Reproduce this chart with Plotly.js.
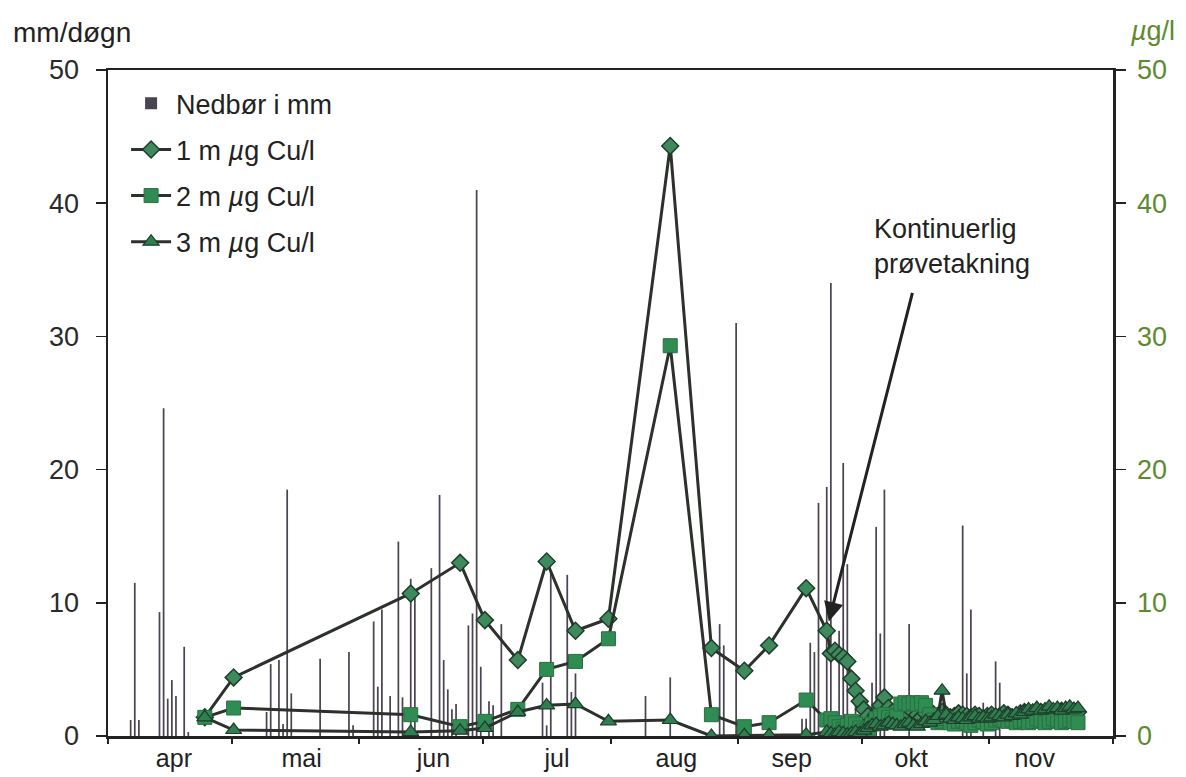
<!DOCTYPE html>
<html>
<head>
<meta charset="utf-8">
<script src="https://cdn.plot.ly/plotly-3.0.1.min.js"></script>
<style>
html,body{margin:0;padding:0;background:#ffffff;}
#chart{width:1186px;height:777px;}
</style>
</head>
<body>
<div id="chart"></div>
<script>
// ---- Precipitation (mm per day) ----
const rainDates = [
  "2000-04-06","2000-04-07","2000-04-08","2000-04-13","2000-04-14","2000-04-15","2000-04-16","2000-04-17","2000-04-19","2000-04-20",
  "2000-05-09","2000-05-10","2000-05-12","2000-05-13","2000-05-14","2000-05-15","2000-05-22","2000-05-29","2000-05-30",
  "2000-06-04","2000-06-05","2000-06-06","2000-06-08","2000-06-10","2000-06-11","2000-06-13","2000-06-14","2000-06-18","2000-06-20",
  "2000-06-21","2000-06-22","2000-06-23","2000-06-24","2000-06-27","2000-06-28","2000-06-29","2000-06-30",
  "2000-07-02","2000-07-03","2000-07-05","2000-07-15","2000-07-16","2000-07-17","2000-07-21","2000-07-22","2000-07-23",
  "2000-08-09","2000-08-15","2000-08-27","2000-08-28","2000-08-31",
  "2000-09-16","2000-09-17","2000-09-18","2000-09-19","2000-09-20","2000-09-22","2000-09-23","2000-09-25","2000-09-26","2000-09-27","2000-09-29",
  "2000-10-03","2000-10-04","2000-10-05","2000-10-06","2000-10-12","2000-10-25","2000-10-26","2000-10-27","2000-10-30",
  "2000-11-02","2000-11-03"
];
const rainMm = [
  1.2,11.5,1.2,9.3,24.6,2.8,4.2,3.0,6.7,0.3,
  1.8,5.4,5.7,0.9,18.5,3.2,5.8,6.3,0.8,
  8.6,3.7,9.5,3.0,14.6,2.9,11.8,11.0,12.6,18.1,
  5.7,3.5,2.0,2.4,8.3,9.2,41.0,5.2,
  2.6,2.3,8.4,4.0,0.8,12.3,12.1,3.3,4.7,
  3.0,4.4,8.4,6.8,31.0,
  1.3,1.3,7.0,6.3,17.5,18.7,34.0,7.9,20.5,12.9,3.0,
  4.0,15.7,7.7,18.5,8.4,15.8,4.7,9.5,2.5,
  5.6,4.0
];

// ---- Copper, manual sampling ----
const sampleDates = ["2000-04-24","2000-05-01","2000-06-13","2000-06-25","2000-07-01","2000-07-09","2000-07-16","2000-07-23",
  "2000-07-31","2000-08-15","2000-08-25","2000-09-02","2000-09-08","2000-09-17","2000-09-22"];
const cu1mSample = [1.4,4.4,10.7,13.0,8.7,5.7,13.1,7.9,8.8,44.3,6.6,4.9,6.8,11.1,7.9];
const cu2mSample = [1.4,2.1,1.6,0.7,1.1,2.0,5.0,5.6,7.3,29.3,1.6,0.7,1.0,2.7,1.2];
const cu3mSample = [1.4,0.45,0.3,0.4,0.6,1.8,2.3,2.4,1.1,1.2,0.0,0.05,0.05,0.1,0.3];

// ---- Copper, continuous sampling ----
const contDates = [
  "2000-09-23","2000-09-24","2000-09-25","2000-09-26","2000-09-27","2000-09-28","2000-09-29","2000-09-30",
  "2000-10-01","2000-10-02","2000-10-03","2000-10-04","2000-10-05","2000-10-06","2000-10-07","2000-10-08","2000-10-09","2000-10-10",
  "2000-10-11","2000-10-12","2000-10-13","2000-10-14","2000-10-15","2000-10-16","2000-10-17","2000-10-18","2000-10-19","2000-10-20",
  "2000-10-21","2000-10-22","2000-10-23","2000-10-24","2000-10-25","2000-10-26","2000-10-27","2000-10-28","2000-10-29","2000-10-30","2000-10-31",
  "2000-11-01","2000-11-02","2000-11-03","2000-11-04","2000-11-05","2000-11-06","2000-11-07","2000-11-08","2000-11-09","2000-11-10",
  "2000-11-11","2000-11-12","2000-11-13","2000-11-14","2000-11-15","2000-11-16","2000-11-17","2000-11-18","2000-11-19","2000-11-20",
  "2000-11-21","2000-11-22"
];
const cu1mCont = [6.2,6.4,6.1,5.9,5.6,4.3,3.4,2.6,
  2.0,1.5,1.2,1.6,2.3,2.9,2.1,1.8,1.6,1.9,
  1.7,1.5,1.8,1.6,1.4,1.7,1.9,1.6,1.5,1.8,
  1.6,1.4,1.5,1.7,1.6,1.5,1.4,1.6,1.5,1.3,1.5,
  1.6,1.4,1.5,1.7,1.6,1.4,1.5,1.7,1.8,1.6,
  1.7,1.9,1.8,1.7,1.9,1.8,1.7,1.9,1.8,1.7,
  1.9,1.8];
const cu2mCont = [1.3,1.0,0.7,0.5,0.8,1.1,0.9,0.6,
  0.4,0.5,0.9,1.3,1.5,1.6,1.4,1.2,1.5,2.4,
  2.5,2.4,2.5,2.4,2.5,2.3,1.6,1.2,1.0,1.1,
  1.3,1.0,0.9,1.1,1.2,1.0,0.8,1.0,1.2,1.1,0.9,
  1.0,1.2,1.3,1.2,1.1,1.2,1.0,1.1,1.2,1.0,
  1.1,1.3,1.2,1.0,1.1,1.3,1.2,1.0,1.1,1.2,
  1.1,1.0];
const cu3mCont = [0.2,0.1,0.3,0.2,0.1,0.2,0.3,0.2,
  0.4,0.6,0.8,0.9,0.7,0.8,1.0,0.9,0.8,0.7,
  0.9,1.0,0.8,0.7,0.9,1.1,1.0,1.2,1.5,3.4,
  1.6,1.3,1.2,1.4,1.3,1.2,1.4,1.5,1.3,1.4,1.3,
  1.4,1.6,1.5,1.4,1.6,1.5,1.7,1.6,1.8,2.0,
  1.9,2.1,1.9,2.0,2.2,2.0,2.1,1.9,2.1,2.2,
  2.0,2.1];

// ---- Axis labels ----
const monthLabelDates = ["2000-04-17","2000-05-18","2000-06-19","2000-07-19","2000-08-17","2000-09-14","2000-10-13","2000-11-12"];
const monthLabels = ["apr","mai","jun","jul","aug","sep","okt","nov"];
const seriesNames = ["Nedbør i mm","1 m <i>µ</i>g Cu/l","2 m <i>µ</i>g Cu/l","3 m <i>µ</i>g Cu/l"];

const FONT = "Liberation Sans, Arial, sans-serif";
const FS = 27;
const DAY = 86400000;
const allDates = sampleDates.concat(contDates);

const traces = [
  {
    type: "bar", name: seriesNames[0], legendgroup: "a",
    x: rainDates, y: rainMm, width: DAY * 0.42,
    xperiod: DAY, xperiodalignment: "middle",
    marker: {color: "#4a4450", line: {width: 0}},
    hoverinfo: "x+y"
  },
  {
    type: "scatter", mode: "lines+markers", name: seriesNames[1], legendgroup: "b", yaxis: "y2",
    x: allDates, y: cu1mSample.concat(cu1mCont),
    xperiod: DAY, xperiodalignment: "middle",
    line: {color: "#2c312c", width: 3},
    marker: {symbol: "diamond", size: 13, color: "#3e8a5c", line: {color: "#1f3d2a", width: 1.5}}
  },
  {
    type: "scatter", mode: "lines+markers", name: seriesNames[2], legendgroup: "c", yaxis: "y2",
    x: allDates, y: cu2mSample.concat(cu2mCont),
    xperiod: DAY, xperiodalignment: "middle",
    line: {color: "#2c312c", width: 3},
    marker: {symbol: "square", size: 14, color: "#2f8c52", line: {color: "#2a6e40", width: 1}}
  },
  {
    type: "scatter", mode: "lines+markers", name: seriesNames[3], legendgroup: "d", yaxis: "y2",
    x: allDates, y: cu3mSample.concat(cu3mCont),
    xperiod: DAY, xperiodalignment: "middle",
    line: {color: "#2c312c", width: 3},
    marker: {symbol: "triangle-up", size: 14, color: "#2f7e50", line: {color: "#1f3d2a", width: 1.2}}
  }
];

const layout = {
  width: 1186, height: 777,
  margin: {l: 108, r: 73, t: 70, b: 41, pad: 0},
  paper_bgcolor: "#ffffff", plot_bgcolor: "#ffffff",
  font: {family: FONT, size: FS, color: "#222"},
  showlegend: true,
  legend: {
    x: 0.018, y: 0.986, xanchor: "left", yanchor: "top",
    bgcolor: "rgba(0,0,0,0)", borderwidth: 0,
    font: {family: FONT, size: FS, color: "#222"},
    tracegroupgap: 8, itemwidth: 40
  },
  xaxis: {
    type: "date", range: ["2000-04-01", "2000-12-01"],
    tickmode: "array", tickvals: monthLabelDates, ticktext: monthLabels,
    ticks: "", showgrid: false, zeroline: false,
    showline: true, linecolor: "#222", linewidth: 2.5, mirror: true,
    tickfont: {family: FONT, size: 25, color: "#222"},
    ticklabelstandoff: -2,
    minor: {ticks: "outside", ticklen: 5, tickwidth: 2, tickcolor: "#222", dtick: "M1", tick0: "2000-04-01", showgrid: false},
    fixedrange: true
  },
  yaxis: {
    range: [0, 50], dtick: 10, tick0: 0,
    ticks: "outside", ticklen: 10, tickwidth: 1.5, tickcolor: "#222",
    showline: true, linecolor: "#222", linewidth: 2.5,
    showgrid: false, zeroline: false,
    tickfont: {family: FONT, size: FS, color: "#2a2a2a"},
    ticklabelstandoff: 11, fixedrange: true
  },
  yaxis2: {
    overlaying: "y", side: "right",
    range: [0, 50], dtick: 10, tick0: 0,
    ticks: "outside", ticklen: 10, tickwidth: 1.5, tickcolor: "#222",
    showline: true, linecolor: "#222", linewidth: 2.5,
    showgrid: false, zeroline: false,
    tickfont: {family: FONT, size: FS, color: "#5e8a2e"},
    ticklabelstandoff: 6, fixedrange: true
  },
  annotations: [
    {xref: "paper", yref: "paper", x: -0.0965, y: 1.056, xanchor: "left", yanchor: "middle",
     text: "mm/døgn", showarrow: false, font: {family: FONT, size: 28, color: "#222"}},
    {xref: "paper", yref: "paper", x: 1.039, y: 1.058, xanchor: "center", yanchor: "middle",
     text: "<i>µ</i>g/l", showarrow: false, font: {family: FONT, size: FS, color: "#5e8a2e"}},
    {xref: "paper", yref: "paper", x: 0.84, y: 0.735, xanchor: "center", yanchor: "middle",
     text: "Kontinuerlig<br>prøvetakning", showarrow: false, align: "left",
     font: {family: FONT, size: FS, color: "#222"}},
    {xref: "x", yref: "y", x: "2000-09-23", y: 8.6, text: "", showarrow: true,
     ax: 84, ay: -330, arrowhead: 2, arrowsize: 1.3, arrowwidth: 3, arrowcolor: "#222", standoff: 0}
  ]
};

Plotly.newPlot("chart", traces, layout, {displayModeBar: false, staticPlot: true});
</script>
</body>
</html>
